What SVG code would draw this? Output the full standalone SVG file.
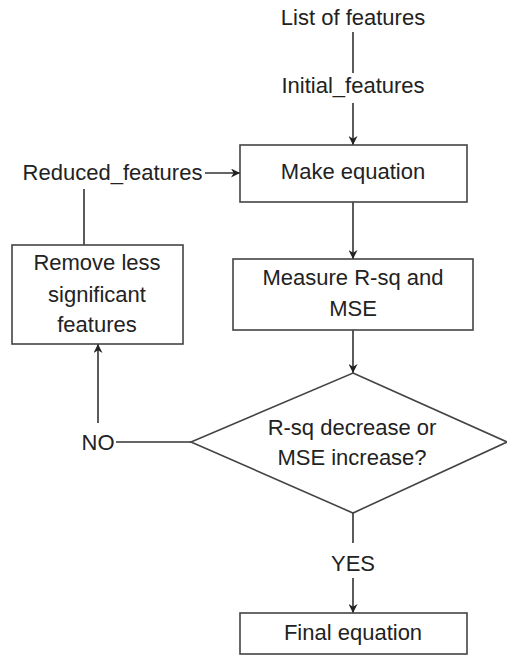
<svg xmlns="http://www.w3.org/2000/svg" width="507" height="655" viewBox="0 0 507 655">
<defs>
<marker id="ah" viewBox="0 0 10 10" refX="10" refY="5" markerWidth="9" markerHeight="9" markerUnits="userSpaceOnUse" orient="auto">
<path d="M0,0 L10,5 L0,10 L3,5 z" fill="#222"/>
</marker>
<style>
text{font-family:"Liberation Sans",Arial,sans-serif;font-size:22px;fill:#222;text-anchor:middle}
.box{fill:#fff;stroke:#444;stroke-width:1.6}
.ln{fill:none;stroke:#333;stroke-width:1.6}
.ar{fill:none;stroke:#333;stroke-width:1.6;marker-end:url(#ah)}
</style>
</defs>
<rect width="507" height="655" fill="#fff"/>
<g id="connectors">
<line class="ln" x1="353" y1="32" x2="353" y2="73"/>
<line class="ar" x1="353" y1="103" x2="353" y2="145"/>
<line class="ar" x1="205" y1="173" x2="240" y2="173"/>
<line class="ln" x1="84" y1="189" x2="84" y2="245"/>
<line class="ar" x1="353" y1="202" x2="353" y2="259"/>
<line class="ar" x1="353" y1="330" x2="353" y2="373"/>
<line class="ln" x1="116" y1="442" x2="191" y2="442"/>
<line class="ar" x1="98" y1="423" x2="98" y2="344"/>
<line class="ln" x1="353" y1="513" x2="353" y2="543"/>
<line class="ar" x1="353" y1="578" x2="353" y2="613"/>
</g>
<g id="list_of_features"><text x="353" y="25">List of features</text></g>
<g id="initial_features"><text x="353" y="93">Initial_features</text></g>
<g id="make_equation">
<rect class="box" x="240" y="145" width="227" height="57"/>
<text x="353" y="179">Make equation</text>
</g>
<g id="reduced_features"><text x="112.5" y="180">Reduced_features</text></g>
<g id="remove_features">
<rect class="box" x="12" y="245" width="171" height="99"/>
<text x="97" y="270">Remove less</text>
<text x="97" y="302">significant</text>
<text x="97" y="332">features</text>
</g>
<g id="measure">
<rect class="box" x="233" y="259" width="240" height="71"/>
<text x="353" y="285">Measure R-sq and</text>
<text x="353" y="316">MSE</text>
</g>
<g id="decision">
<polygon class="box" points="353,373 507,442 353,513 191,442"/>
<text x="352" y="435">R-sq decrease or</text>
<text x="352" y="465">MSE increase?</text>
</g>
<g id="no_label"><text x="98" y="450">NO</text></g>
<g id="yes_label"><text x="353" y="571">YES</text></g>
<g id="final_equation">
<rect class="box" x="240" y="613" width="227" height="41"/>
<text x="353" y="640">Final equation</text>
</g>
</svg>
